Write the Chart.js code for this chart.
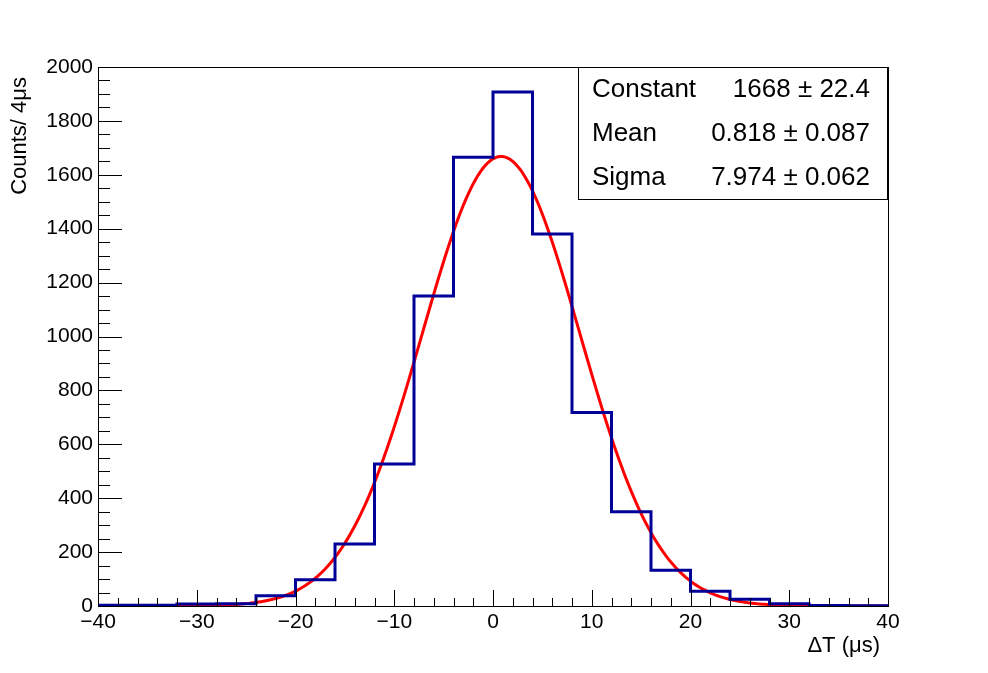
<!DOCTYPE html>
<html>
<head>
<meta charset="utf-8">
<script src="https://cdn.jsdelivr.net/npm/chart.js@4.4.1/dist/chart.umd.min.js"></script>
<style>
  html, body { margin: 0; padding: 0; background: #fff; }
  canvas { display: block; }
</style>
</head>
<body>
<canvas id="chart_dt" width="988" height="673"></canvas>
<script>
// Histogram: 20 bins of 4 us from -40 to 40
const binLow = [-40, -36, -32, -28, -24, -20, -16, -12, -8, -4, 0, 4, 8, 12, 16, 20, 24, 28, 32, 36];
const binWidth = 4;
const counts = [3, 3, 7, 8, 38, 97, 230, 527, 1150, 1665, 1907, 1380, 718, 350, 133, 55, 25, 8, 2, 1];

// Gaussian fit parameters as printed in the stats box
const fitNames = ['Constant', 'Mean', 'Sigma'];
const fitValues = [1668, 0.818, 7.974];
const fitErrors = ['22.4', '0.087', '0.062'];
const fitText = ['1668', '0.818', '7.974'];

const xTicks = [-40, -30, -20, -10, 0, 10, 20, 30, 40];
const yTicks = [0, 200, 400, 600, 800, 1000, 1200, 1400, 1600, 1800, 2000];

const FONT = '"Liberation Sans", Arial, Helvetica, sans-serif';
const MINUS = '\u2212';

// step outline: one point per bin edge, last bin closed at the right edge
const histPoints = binLow.map((x, i) => ({ x: x, y: counts[i] }));
histPoints.push({ x: binLow[binLow.length - 1] + binWidth, y: counts[counts.length - 1] });

// the fit function evaluated across the axis range
const fitPoints = [];
for (let x = -40; x <= 40.0001; x += 0.25) {
    const z = (x - fitValues[1]) / fitValues[2];
    fitPoints.push({ x: x, y: fitValues[0] * Math.exp(-0.5 * z * z) });
}

function fmt(v) {
    return v < 0 ? MINUS + Math.abs(v) : String(v);
}

// ROOT-like frame, inward ticks, axis titles and stats box
const rootStyle = {
    id: 'rootStyle',
    afterDraw(chart) {
        const ctx = chart.ctx;
        const a = chart.chartArea;
        const xs = chart.scales.x;
        const ys = chart.scales.y;

        ctx.save();
        ctx.strokeStyle = '#000';
        ctx.lineWidth = 1;
        ctx.strokeRect(a.left + 0.5, a.top + 0.5, a.right - a.left, a.bottom - a.top);

        ctx.beginPath();
        for (let v = -40; v <= 40; v += 2) {
            const px = Math.round(xs.getPixelForValue(v)) + 0.5;
            const len = v % 10 === 0 ? 16 : 8;
            ctx.moveTo(px, a.bottom);
            ctx.lineTo(px, a.bottom - len);
        }
        for (let v = 0; v <= 2000; v += 50) {
            const py = Math.round(ys.getPixelForValue(v)) + 0.5;
            const len = v % 200 === 0 ? 24 : 12;
            ctx.moveTo(a.left, py);
            ctx.lineTo(a.left + len, py);
        }
        ctx.stroke();

        // axis titles
        ctx.fillStyle = '#000';
        ctx.font = '22px ' + FONT;
        ctx.textAlign = 'right';
        ctx.textBaseline = 'middle';
        ctx.fillText('\u0394T (\u03bcs)', a.right - 8, 646);

        ctx.save();
        ctx.translate(26, a.top + 10);
        ctx.rotate(-Math.PI / 2);
        ctx.textAlign = 'right';
        ctx.textBaseline = 'alphabetic';
        ctx.fillText('Counts/ 4\u03bcs', 0, 0);
        ctx.restore();

        // stats box
        const bx = 578, by = a.top, bw = 309, bh = 132;
        ctx.fillStyle = '#fff';
        ctx.fillRect(bx, by, bw, bh);
        ctx.strokeRect(bx + 0.5, by + 0.5, bw, bh);
        ctx.fillStyle = '#000';
        ctx.font = '26px ' + FONT;
        ctx.textBaseline = 'middle';
        const rowH = bh / fitNames.length;
        fitNames.forEach((name, i) => {
            const cy = by + rowH * (i + 0.5) + 1;
            ctx.textAlign = 'left';
            ctx.fillText(name, 592, cy);
            ctx.textAlign = 'right';
            ctx.fillText(fitText[i] + ' \u00b1 ' + fitErrors[i], 870, cy);
        });
        ctx.restore();
    }
};

new Chart(document.getElementById('chart_dt'), {
    type: 'line',
    data: {
        datasets: [
            {
                label: 'hist',
                data: histPoints,
                stepped: 'before',
                borderColor: '#000099',
                borderWidth: 3,
                pointRadius: 0,
                fill: false,
            },
            {
                label: 'gaus',
                data: fitPoints,
                borderColor: '#ff0000',
                borderWidth: 3,
                pointRadius: 0,
                tension: 0,
                fill: false,
            }
        ]
    },
    options: {
        responsive: false,
        animation: false,
        devicePixelRatio: 1,
        layout: { padding: { left: 0, top: 67, right: 100, bottom: 0 } },
        plugins: { legend: { display: false }, tooltip: { enabled: false } },
        scales: {
            x: {
                type: 'linear',
                min: -40,
                max: 40,
                grid: { display: false, drawTicks: false },
                border: { display: false },
                afterBuildTicks: s => { s.ticks = xTicks.map(v => ({ value: v })); },
                afterFit: s => { s.height = 67; },
                ticks: {
                    color: '#000',
                    font: { family: FONT, size: 21 },
                    padding: 4,
                    maxRotation: 0,
                    autoSkip: false,
                    callback: v => fmt(v)
                }
            },
            y: {
                type: 'linear',
                min: 0,
                max: 2000,
                grid: { display: false, drawTicks: false },
                border: { display: false },
                afterBuildTicks: s => { s.ticks = yTicks.map(v => ({ value: v })); },
                afterFit: s => { s.width = 98; },
                ticks: {
                    color: '#000',
                    font: { family: FONT, size: 21 },
                    padding: 5,
                    autoSkip: false,
                    callback: v => fmt(v)
                }
            }
        }
    },
    plugins: [rootStyle]
});
</script>
</body>
</html>
